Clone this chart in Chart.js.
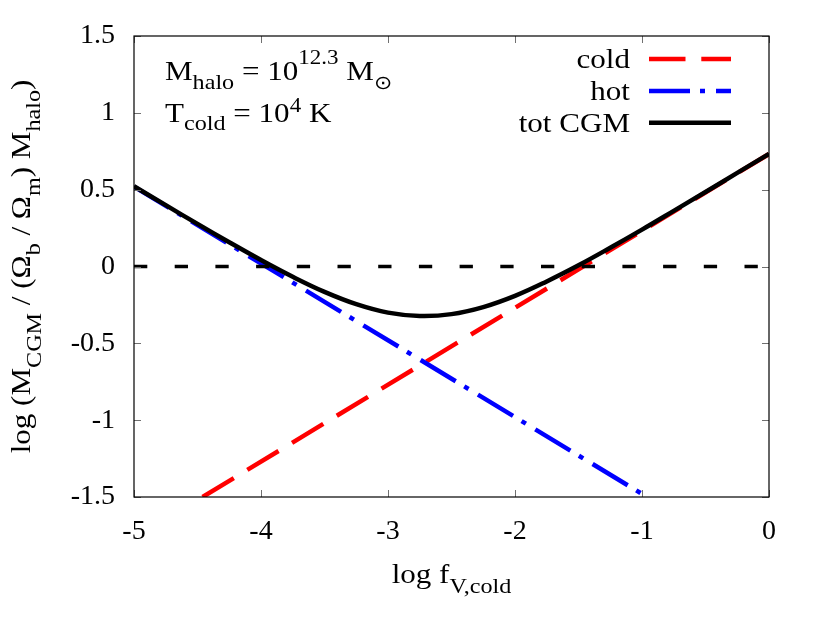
<!DOCTYPE html>
<html>
<head>
<meta charset="utf-8">
<script src="https://cdn.jsdelivr.net/npm/chart.js@4/dist/chart.umd.min.js"></script>
<style>
html,body{margin:0;padding:0;background:#fff;}
#wrap{width:825px;height:630px;position:relative;}
</style>
</head>
<body>
<div id="wrap"><canvas id="c" width="825" height="630"></canvas></div>
<script>
// ---- data ----
const xTicks = [-5, -4, -3, -2, -1, 0];
const yTicks = [-1.5, -1, -0.5, 0, 0.5, 1, 1.5];

const coldX = [-4.46, 0];
const coldY = [-1.5, 0.732];

const hotX = [-5, -0.96];
const hotY = [0.52, -1.5];

const totX = [-5, -4.75, -4.5, -4.25, -4, -3.75, -3.5, -3.25, -3, -2.75, -2.5, -2.25, -2, -1.75, -1.5, -1.25, -1, -0.75, -0.5, -0.25, 0];
const totY = [0.522, 0.399, 0.277, 0.158, 0.042, -0.067, -0.165, -0.245, -0.300, -0.322, -0.310, -0.264, -0.191, -0.097, 0.008, 0.122, 0.240, 0.362, 0.485, 0.609, 0.733];

const refX = [-5, 0];
const refY = [0, 0];

const seriesLabels = ['cold', 'hot', 'tot CGM'];

// ---- styling ----
const FONT = '"Liberation Serif", "Times New Roman", serif';
const SX = 1.15; // horizontal stretch of hand-placed text
const pts = (xs, ys) => xs.map((x, i) => ({x: x, y: ys[i]}));

function rich(ctx, parts, align) {
  let total = 0;
  const ws = parts.map(p => {
    ctx.font = (p.s || 27) + 'px ' + FONT;
    const w = ctx.measureText(p.t).width;
    total += w;
    return w;
  });
  let cx = align === 'right' ? -total : (align === 'center' ? -total / 2 : 0);
  parts.forEach((p, i) => {
    ctx.font = (p.s || 27) + 'px ' + FONT;
    ctx.fillText(p.t, cx, p.dy || 0);
    cx += ws[i];
  });
}
function richAt(ctx, parts, x, y, align, rot) {
  ctx.save();
  ctx.translate(x, y);
  if (rot) ctx.rotate(rot);
  ctx.scale(SX, 1);
  ctx.fillStyle = '#000';
  ctx.textBaseline = 'alphabetic';
  ctx.textAlign = 'left';
  rich(ctx, parts, align);
  ctx.restore();
}
const sub = (t, dy) => ({t: t, s: 21, dy: dy === undefined ? 9 : dy});
const sup = (t, dy) => ({t: t, s: 20, dy: dy === undefined ? -14 : dy});
const nrm = t => ({t: t});

const deco = {
  id: 'deco',
  afterDatasetsDraw(chart) {
    const ctx = chart.ctx;
    const a = chart.chartArea;
    const xs = chart.scales.x, ys = chart.scales.y;
    ctx.save();
    ctx.strokeStyle = '#707070';
    ctx.lineWidth = 1;
    ctx.beginPath();
    xs.ticks.forEach((t, i) => {
      const px = Math.round(xs.getPixelForTick(i)) + 0.5;
      ctx.moveTo(px, a.bottom); ctx.lineTo(px, a.bottom - 7);
      ctx.moveTo(px, a.top); ctx.lineTo(px, a.top + 7);
    });
    ys.ticks.forEach((t, i) => {
      const py = Math.round(ys.getPixelForTick(i)) + 0.5;
      ctx.moveTo(a.left, py); ctx.lineTo(a.left + 7, py);
      ctx.moveTo(a.right, py); ctx.lineTo(a.right - 7, py);
    });
    ctx.stroke();
    ctx.strokeStyle = '#000';
    ctx.lineWidth = 1.2;
    ctx.strokeRect(a.left, a.top, a.right - a.left, a.bottom - a.top);
    ctx.restore();
  },
  afterDraw(chart) {
    const ctx = chart.ctx;
    const a = chart.chartArea;
    const ds = chart.data.datasets;
    const items = seriesLabels.map(l => ds.find(d => d.label === l));
    const baseY = [68, 100, 131.7];
    items.forEach((d, i) => {
      richAt(ctx, [nrm(d.label)], 630, baseY[i], 'right');
      ctx.save();
      ctx.strokeStyle = d.borderColor;
      ctx.lineWidth = d.borderWidth;
      ctx.setLineDash(d.borderDash || []);
      ctx.lineCap = 'butt';
      ctx.beginPath();
      ctx.moveTo(649, baseY[i] - 9);
      ctx.lineTo(731, baseY[i] - 9);
      ctx.stroke();
      ctx.restore();
    });
    richAt(ctx, [nrm('M'), sub('halo', 9), nrm(' = 10'), sup('12.3', -16), nrm(' M'), {t: '\u2299', s: 19, dy: 9}], 165, 80, 'left');
    richAt(ctx, [nrm('T'), sub('cold', 8), nrm(' = 10'), sup('4', -10), nrm(' K')], 165, 121.7, 'left');
    richAt(ctx, [nrm('log f'), sub('V,cold', 10)], (a.left + a.right) / 2, 583, 'center');
    richAt(ctx, [nrm('log (M'), sub('CGM', 11), nrm(' / ('), nrm('\u03A9'), sub('b', 10), nrm(' / '), nrm('\u03A9'), sub('m', 10), nrm(') M'), sub('halo', 10), nrm(')')],
      30, (a.top + a.bottom) / 2, 'center', -Math.PI / 2);
  }
};

const tickFont = {family: FONT, size: 28};

new Chart(document.getElementById('c'), {
  type: 'scatter',
  data: {
    datasets: [
      {label: 'tot CGM', data: pts(totX, totY), showLine: true, borderColor: '#000000', borderWidth: 4.5, pointRadius: 0, tension: 0.4, order: 0},
      {label: 'zero', data: pts(refX, refY), showLine: true, borderColor: '#000000', borderWidth: 3.5, borderDash: [13.3, 27.4], pointRadius: 0, order: 1},
      {label: 'hot', data: pts(hotX, hotY), showLine: true, borderColor: '#0000ff', borderWidth: 4.5, borderDash: [41, 10, 5, 11], pointRadius: 0, order: 2},
      {label: 'cold', data: pts(coldX, coldY), showLine: true, borderColor: '#ff0000', borderWidth: 4.5, borderDash: [36.5, 15.8], pointRadius: 0, order: 3}
    ]
  },
  options: {
    responsive: false,
    animation: false,
    devicePixelRatio: 1,
    layout: {padding: {top: 36, right: 56, left: 0, bottom: 0}},
    plugins: {legend: {display: false}, tooltip: {enabled: false}},
    scales: {
      x: {
        type: 'linear', min: -5, max: 0,
        afterBuildTicks: s => { s.ticks = xTicks.map(v => ({value: v})); },
        afterFit: s => { s.height = 133; },
        grid: {display: false, drawTicks: false},
        border: {display: false},
        ticks: {font: tickFont, color: '#000', padding: 18, maxRotation: 0, autoSkip: false, callback: v => String(v)}
      },
      y: {
        type: 'linear', min: -1.5, max: 1.5,
        afterBuildTicks: s => { s.ticks = yTicks.map(v => ({value: v})); },
        afterFit: s => { s.width = 134; },
        grid: {display: false, drawTicks: false},
        border: {display: false},
        ticks: {font: tickFont, color: '#000', padding: 19, autoSkip: false, callback: v => String(v)}
      }
    }
  },
  plugins: [deco]
});
</script>
</body>
</html>
